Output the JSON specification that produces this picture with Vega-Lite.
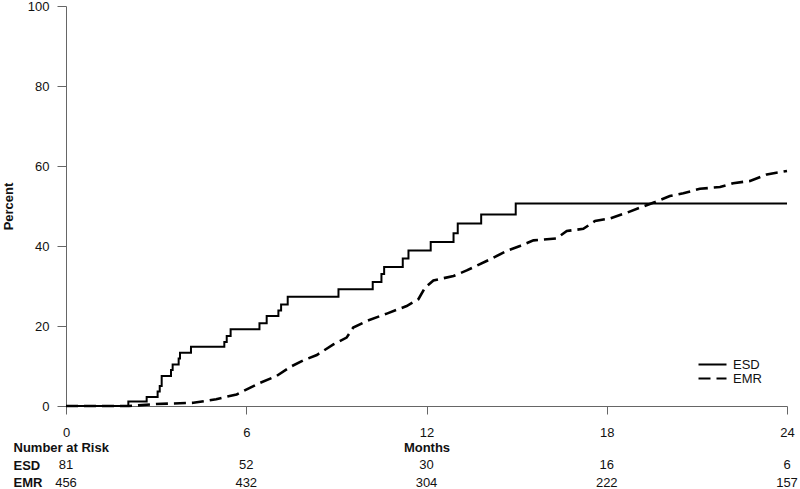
{
  "$schema": "https://vega.github.io/schema/vega-lite/v6.json",
  "background": "white",
  "padding": {"left": 2, "top": 0, "right": 5, "bottom": 0},
  "spacing": 0,
  "config": {
    "font": "Liberation Sans",
    "view": {"stroke": null},
    "axis": {"grid": false, "domainColor": "#666", "tickColor": "#666", "labelColor": "#111", "titleColor": "#111", "labelFontSize": 13, "titleFontSize": 13, "titleFontWeight": "bold"},
    "text": {"font": "Liberation Sans"}
  },
  "datasets": {
    "esd": [
      {"series": "ESD", "month": 0, "pct": 0},
      {"series": "ESD", "month": 2.075, "pct": 1.1},
      {"series": "ESD", "month": 2.685, "pct": 2.25},
      {"series": "ESD", "month": 3.05, "pct": 3.6},
      {"series": "ESD", "month": 3.12, "pct": 5.0},
      {"series": "ESD", "month": 3.185, "pct": 7.5},
      {"series": "ESD", "month": 3.495, "pct": 9.0},
      {"series": "ESD", "month": 3.55, "pct": 10.4},
      {"series": "ESD", "month": 3.75, "pct": 11.9},
      {"series": "ESD", "month": 3.795, "pct": 13.3},
      {"series": "ESD", "month": 4.16, "pct": 14.8},
      {"series": "ESD", "month": 5.27, "pct": 16.0},
      {"series": "ESD", "month": 5.35, "pct": 17.5},
      {"series": "ESD", "month": 5.48, "pct": 19.2},
      {"series": "ESD", "month": 6.44, "pct": 20.7},
      {"series": "ESD", "month": 6.68, "pct": 22.5},
      {"series": "ESD", "month": 7.07, "pct": 23.9},
      {"series": "ESD", "month": 7.16, "pct": 25.4},
      {"series": "ESD", "month": 7.38, "pct": 27.3},
      {"series": "ESD", "month": 9.07, "pct": 29.2},
      {"series": "ESD", "month": 10.21, "pct": 31.0},
      {"series": "ESD", "month": 10.5, "pct": 33.0},
      {"series": "ESD", "month": 10.59, "pct": 34.75},
      {"series": "ESD", "month": 11.21, "pct": 36.9},
      {"series": "ESD", "month": 11.4, "pct": 38.9},
      {"series": "ESD", "month": 12.14, "pct": 41.0},
      {"series": "ESD", "month": 12.9, "pct": 43.2},
      {"series": "ESD", "month": 13.04, "pct": 45.6},
      {"series": "ESD", "month": 13.82, "pct": 47.9},
      {"series": "ESD", "month": 14.97, "pct": 50.6},
      {"series": "ESD", "month": 24, "pct": 50.6}
    ],
    "emr": [
      {"series": "EMR", "month": 0, "pct": 0},
      {"series": "EMR", "month": 2.1, "pct": 0},
      {"series": "EMR", "month": 3.0, "pct": 0.5},
      {"series": "EMR", "month": 4.24, "pct": 0.8},
      {"series": "EMR", "month": 5.0, "pct": 1.7},
      {"series": "EMR", "month": 5.68, "pct": 2.9},
      {"series": "EMR", "month": 6.46, "pct": 5.8},
      {"series": "EMR", "month": 7.01, "pct": 7.5},
      {"series": "EMR", "month": 7.46, "pct": 9.75},
      {"series": "EMR", "month": 7.9, "pct": 11.4},
      {"series": "EMR", "month": 8.35, "pct": 12.75},
      {"series": "EMR", "month": 8.9, "pct": 15.4},
      {"series": "EMR", "month": 9.34, "pct": 17.1},
      {"series": "EMR", "month": 9.56, "pct": 19.6},
      {"series": "EMR", "month": 10.01, "pct": 21.25},
      {"series": "EMR", "month": 10.68, "pct": 23.1},
      {"series": "EMR", "month": 11.34, "pct": 25.0},
      {"series": "EMR", "month": 11.73, "pct": 26.7},
      {"series": "EMR", "month": 11.95, "pct": 29.6},
      {"series": "EMR", "month": 12.23, "pct": 31.4},
      {"series": "EMR", "month": 12.9, "pct": 32.5},
      {"series": "EMR", "month": 13.34, "pct": 33.9},
      {"series": "EMR", "month": 14.0, "pct": 36.25},
      {"series": "EMR", "month": 14.67, "pct": 38.75},
      {"series": "EMR", "month": 15.11, "pct": 40.0},
      {"series": "EMR", "month": 15.56, "pct": 41.4},
      {"series": "EMR", "month": 16.33, "pct": 41.9},
      {"series": "EMR", "month": 16.67, "pct": 43.75},
      {"series": "EMR", "month": 17.22, "pct": 44.3},
      {"series": "EMR", "month": 17.61, "pct": 46.25},
      {"series": "EMR", "month": 18.11, "pct": 46.9},
      {"series": "EMR", "month": 18.66, "pct": 48.3},
      {"series": "EMR", "month": 19.11, "pct": 49.6},
      {"series": "EMR", "month": 19.61, "pct": 51.0},
      {"series": "EMR", "month": 20.1, "pct": 52.5},
      {"series": "EMR", "month": 20.55, "pct": 53.2},
      {"series": "EMR", "month": 21.1, "pct": 54.3},
      {"series": "EMR", "month": 21.77, "pct": 54.75},
      {"series": "EMR", "month": 22.21, "pct": 55.7},
      {"series": "EMR", "month": 22.77, "pct": 56.25},
      {"series": "EMR", "month": 23.33, "pct": 57.9},
      {"series": "EMR", "month": 24, "pct": 58.75}
    ],
    "risk": [
      {"group": "ESD", "month": 0, "n": 81},
      {"group": "ESD", "month": 6, "n": 52},
      {"group": "ESD", "month": 12, "n": 30},
      {"group": "ESD", "month": 18, "n": 16},
      {"group": "ESD", "month": 24, "n": 6},
      {"group": "EMR", "month": 0, "n": 456},
      {"group": "EMR", "month": 6, "n": 432},
      {"group": "EMR", "month": 12, "n": 304},
      {"group": "EMR", "month": 18, "n": 222},
      {"group": "EMR", "month": 24, "n": 157}
    ]
  },
  "vconcat": [
    {
      "width": 721,
      "height": 400,
      "encoding": {
        "x": {"field": "month", "type": "quantitative", "scale": {"domain": [0, 24], "nice": false},
              "axis": {"values": [0, 6, 12, 18, 24], "title": null, "tickSize": 8, "labelPadding": 12, "labelFlush": false}},
        "y": {"field": "pct", "type": "quantitative", "scale": {"domain": [0, 100], "nice": false},
              "axis": {"values": [0, 20, 40, 60, 80, 100], "title": "Percent", "tickSize": 9, "labelPadding": 8, "titlePadding": 12}},
        "strokeDash": {"field": "series", "type": "nominal",
                       "scale": {"domain": ["ESD", "EMR"], "range": [[1, 0], [12, 6]]},
                       "legend": {"title": null, "orient": "none", "legendX": 640, "legendY": 352, "symbolType": "M-2.8,0H2.8", "symbolSize": 100, "symbolStrokeWidth": 2.2, "symbolStrokeColor": "black", "symbolFillColor": "transparent", "labelFontSize": 13, "labelOffset": 14, "labelColor": "#111", "rowPadding": 0, "padding": 0}}
      },
      "layer": [
        {"data": {"name": "esd"}, "mark": {"type": "line", "interpolate": "step-after", "color": "black", "strokeWidth": 2}},
        {"data": {"name": "emr"}, "mark": {"type": "line", "interpolate": "linear", "color": "black", "strokeWidth": 2.6}}
      ]
    },
    {
      "width": 721,
      "height": 52.5,
      "data": {"name": "risk"},
      "mark": {"type": "text", "fontSize": 13, "color": "#111"},
      "encoding": {
        "x": {"field": "month", "type": "quantitative", "scale": {"domain": [0, 24], "nice": false},
              "axis": {"orient": "top", "title": "Months", "labels": false, "ticks": false, "domain": false, "titleY": 8, "titleBaseline": "middle"}},
        "y": {"field": "group", "type": "nominal", "scale": {"domain": ["Number at Risk", "ESD", "EMR"]},
              "axis": {"title": null, "domain": false, "ticks": false, "tickSize": 0, "labelAlign": "left", "labelPadding": 53, "labelFontWeight": "bold", "labelFontSize": 13, "labelColor": "#111"}},
        "text": {"field": "n", "type": "nominal"}
      }
    }
  ]
}
